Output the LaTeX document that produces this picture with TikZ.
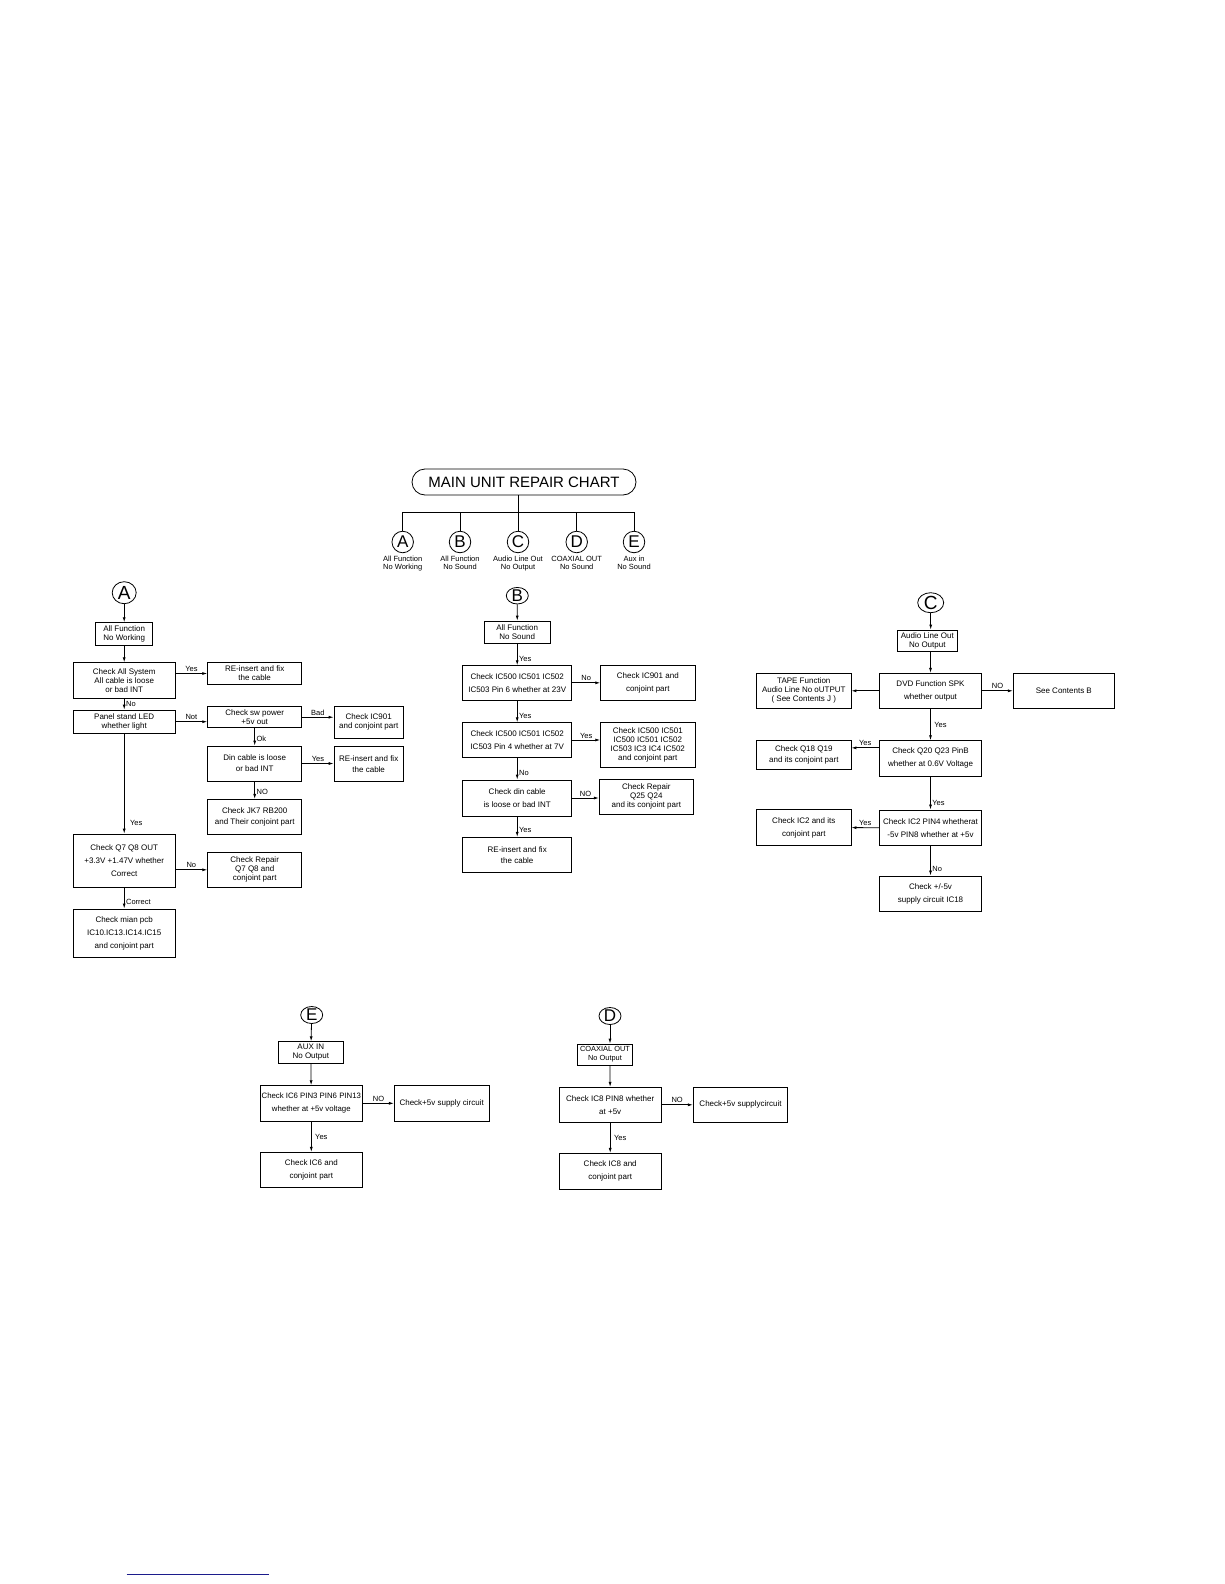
\documentclass[tikz,border=0pt]{standalone}
\usepackage{fontspec}
\setmainfont{Liberation Sans}
\usetikzlibrary{arrows.meta, positioning, shapes.geometric, calc}
\definecolor{linkblue}{RGB}{28,28,140}

\begin{document}
\begin{tikzpicture}[
x=1pt, y=-1pt,
box/.style={draw, line width=0.8pt, inner sep=1pt, align=center, font=\fontsize{8}{9}\selectfont},
mbox/.style={box, font=\fontsize{8}{11}\selectfont},
lbox/.style={box, font=\fontsize{8}{13}\selectfont},
sz/.style 2 args={minimum width=#1, minimum height=#2},
ring/.style={draw, ellipse, line width=0.8pt, inner sep=0pt, font=\fontsize{17}{17}\selectfont},
tagtext/.style={align=center, inner sep=1pt, font=\fontsize{7.5}{8}\selectfont},
lbl/.style={inner sep=1.5pt, font=\fontsize{7.5}{8}\selectfont},
wire/.style={line width=0.8pt},
arrow/.style={-{Latex[length=5pt,width=3pt]}, line width=0.8pt}
]
\useasboundingbox (0,0) rectangle (1224,1584);

\node[draw, line width=0.8pt, rounded corners=13pt, sz={224}{26}, font=\fontsize{15}{15}\selectfont] (title) at (524,482) {MAIN UNIT REPAIR CHART};
\coordinate (bus) at (518,512);
\foreach \n/\x in {A/402.7, B/460, C/518, D/576.7, E/634}
  \node[ring, sz={21.5}{21.5}] (t\n) at (\x,542) {\n};
\node[tagtext, below=1.5pt of tA] (cA) {All Function\\No Working};
\node[tagtext, below=1.5pt of tB] (cB) {All Function\\No Sound};
\node[tagtext, below=1.5pt of tC] (cC) {Audio Line Out\\No Output};
\node[tagtext, below=1.5pt of tD] (cD) {COAXIAL OUT\\No Sound};
\node[tagtext, below=1.5pt of tE] (cE) {Aux in\\No Sound};
\draw[wire] (title.south -| bus) -- (bus);
\draw[wire] (tA.north |- bus) -- (tE.north |- bus);
\foreach \n in {A,...,E}
  \draw[wire] (t\n.north |- bus) -- (t\n.north);

\node[ring, sz={24}{22}, font=\fontsize{19}{19}\selectfont] (A) at (124.2,592.7) {A};
\node[box, sz={57}{22.3}] (A1) at (124.2,633.8) {All Function\\No Working};
\node[box, sz={101.7}{35.6}] (A2) at (124.2,680.5) {Check All System\\All cable is loose\\or bad INT};
\node[box, sz={94}{21.6}] (A3) at (254.7,673.5) {RE-insert and fix\\the cable};
\node[box, sz={101.7}{23.3}] (A4) at (124.2,721.7) {Panel stand LED\\whether light};
\node[box, sz={94}{21}] (A5) at (254.7,717.2) {Check sw power\\+5v out};
\node[box, sz={69.3}{32.3}] (A6) at (368.7,722.2) {Check IC901\\and conjoint part};
\node[mbox, sz={94}{35}] (A7) at (254.7,763.5) {Din cable is loose\\or bad INT};
\node[mbox, sz={69.3}{35.7}] (A8) at (368.7,763.8) {RE-insert and fix\\the cable};
\node[mbox, sz={94}{34.7}] (A9) at (254.7,816.7) {Check JK7 RB200\\and Their conjoint part};
\node[lbox, sz={101.7}{53.3}] (A10) at (124.2,860.7) {Check Q7 Q8 OUT\\+3.3V +1.47V whether\\Correct};
\node[box, sz={94}{35}] (A11) at (254.7,869.8) {Check Repair\\Q7 Q8 and\\conjoint part};
\node[lbox, sz={101.7}{48.7}] (A12) at (124.2,933.3) {Check mian pcb\\IC10.IC13.IC14.IC15\\and conjoint part};
\draw[arrow] (A) -- (A1);
\draw[arrow] (A1) -- (A2);
\draw[arrow] (A2.east |- A3) -- (A3) node[lbl, midway, above] {Yes};
\draw[arrow] (A2) -- (A4) node[lbl, midway, right] {No};
\draw[arrow] (A4) -- (A4 -| A5.west) node[lbl, midway, above] {Not};
\draw[arrow] (A5) -- (A5 -| A6.west) node[lbl, midway, above] {Bad};
\draw[arrow] (A5) -- (A7) node[lbl, pos=.6, right] {Ok};
\draw[arrow] (A7) -- (A7 -| A8.west) node[lbl, midway, above] {Yes};
\draw[arrow] (A7) -- (A9) node[lbl, pos=.6, right] {NO};
\draw[arrow] (A4) -- (A10) node[lbl, pos=.89, right=4pt] {Yes};
\draw[arrow] (A10.east |- A11) -- (A11) node[lbl, midway, above] {No};
\draw[arrow] (A10) -- (A12) node[lbl, pos=.7, right] {Correct};

\node[ring, sz={22}{16}] (B) at (517.3,595.7) {B};
\node[box, sz={65.7}{22.3}] (B1) at (517.2,632.2) {All Function\\No Sound};
\node[lbox, sz={109}{34.3}] (B2) at (517.2,682.8) {Check IC500 IC501 IC502\\IC503 Pin 6 whether at 23V};
\node[lbox, sz={94.3}{34.3}] (B3) at (647.8,682.8) {Check IC901 and\\conjoint part};
\node[lbox, sz={109}{34.6}] (B4) at (517.2,740) {Check IC500 IC501 IC502\\IC503 Pin 4 whether at 7V};
\node[box, sz={94.3}{44.3}] (B5) at (647.8,744.8) {Check IC500 IC501\\IC500 IC501 IC502\\IC503 IC3 IC4 IC502\\and conjoint part};
\node[lbox, sz={109}{36}] (B6) at (517.2,798) {Check din cable\\is loose or bad INT};
\node[box, sz={94}{34.7}] (B7) at (646.3,796.7) {Check Repair\\Q25 Q24\\and its conjoint part};
\node[mbox, sz={109}{35.4}] (B8) at (517.2,855) {RE-insert and fix\\the cable};
\draw[arrow] (B) -- (B1);
\draw[arrow] (B1) -- (B2) node[lbl, pos=.7, right] {Yes};
\draw[arrow] (B2) -- (B3) node[lbl, midway, above] {No};
\draw[arrow] (B2) -- (B4) node[lbl, pos=.7, right] {Yes};
\draw[arrow] (B4) -- (B4 -| B5.west) node[lbl, midway, above] {Yes};
\draw[arrow] (B4) -- (B6) node[lbl, pos=.7, right] {No};
\draw[arrow] (B6) -- (B6 -| B7.west) node[lbl, midway, above] {NO};
\draw[arrow] (B6) -- (B8) node[lbl, pos=.65, right] {Yes};

\node[ring, sz={26}{20}, font=\fontsize{19}{19}\selectfont] (C) at (930.7,602.7) {C};
\node[box, sz={60.7}{21}] (C1) at (927.3,640.5) {Audio Line Out\\No Output};
\node[lbox, sz={102.4}{35}] (C2) at (930.5,690.8) {DVD Function SPK\\whether output};
\node[box, sz={94.3}{35}] (C3) at (803.8,690.8) {TAPE Function\\Audio Line No oUTPUT\\( See Contents J )};
\node[box, sz={101}{35}] (C4) at (1063.8,690.8) {See Contents B};
\node[lbox, sz={102.4}{35.3}] (C5) at (930.5,758.3) {Check Q20 Q23 PinB\\whether at 0.6V Voltage};
\node[mbox, sz={94.3}{28.6}] (C6) at (803.8,755) {Check Q18 Q19\\and its conjoint part};
\node[lbox, sz={102.4}{35.7}] (C7) at (930.5,827.8) {Check IC2 PIN4 whetherat\\-5v PIN8 whether at +5v};
\node[lbox, sz={94.3}{36.4}] (C8) at (803.8,827.5) {Check IC2 and its\\conjoint part};
\node[lbox, sz={102.4}{35.7}] (C9) at (930.5,893.8) {Check +/-5v\\supply circuit IC18};
\draw[arrow] (C) -- (C |- C1.north);
\draw[arrow] (C1.south -| C2) -- (C2);
\draw[arrow] (C2) -- (C3);
\draw[arrow] (C2) -- (C4) node[lbl, midway, above] {NO};
\draw[arrow] (C2) -- (C5) node[lbl, midway, right=2pt] {Yes};
\draw[arrow] ($(C5.north west)+(0,7.6)$) -- ($(C5.north west -| C6.east)+(0,7.6)$) node[lbl, midway, above] {Yes};
\draw[arrow] (C5) -- (C7) node[lbl, pos=.8, right] {Yes};
\draw[arrow] (C7) -- (C8) node[lbl, midway, above] {Yes};
\draw[arrow] (C7) -- (C9) node[lbl, pos=.77, right] {No};

\node[ring, sz={22}{17}] (E) at (311.7,1015) {E};
\node[box, sz={65}{21.6}] (E1) at (310.8,1052.5) {AUX IN\\No Output};
\node[lbox, sz={102.7}{35.3}, font=\fontsize{7.8}{13}\selectfont] (E2) at (311.3,1103.3) {Check IC6 PIN3 PIN6 PIN13\\whether at +5v voltage};
\node[box, sz={94.7}{35.3}] (E3) at (441.7,1103.3) {Check+5v supply circuit};
\node[lbox, sz={102.7}{35.4}] (E4) at (311.3,1170) {Check IC6 and\\conjoint part};
\draw[arrow] (E) -- (E1);
\draw[arrow] (E1) -- (E2);
\draw[arrow] (E2) -- (E3) node[lbl, midway, above] {NO};
\draw[arrow] (E2) -- (E4) node[lbl, midway, right=2pt] {Yes};

\node[ring, sz={22}{17}] (D) at (610,1016) {D};
\node[box, sz={55.4}{21}, font=\fontsize{7.4}{9}\selectfont] (D1) at (605,1054.5) {COAXIAL OUT\\No Output};
\node[lbox, sz={101.7}{35}] (D2) at (610.2,1104.8) {Check IC8 PIN8 whether\\at +5v};
\node[box, sz={94.4}{35}] (D3) at (740.5,1104.8) {Check+5v supplycircuit};
\node[lbox, sz={101.7}{35.7}] (D4) at (610.2,1171.2) {Check IC8 and\\conjoint part};
\draw[arrow] (D) -- (D |- D1.north);
\draw[arrow] (D1.south -| D) -- (D2);
\draw[arrow] (D2) -- (D3) node[lbl, midway, above] {NO};
\draw[arrow] (D2) -- (D4) node[lbl, midway, right=2pt] {Yes};

\draw[linkblue, line width=1pt] (126.7,1574.7) -- (269,1574.7);
\end{tikzpicture}
\end{document}
